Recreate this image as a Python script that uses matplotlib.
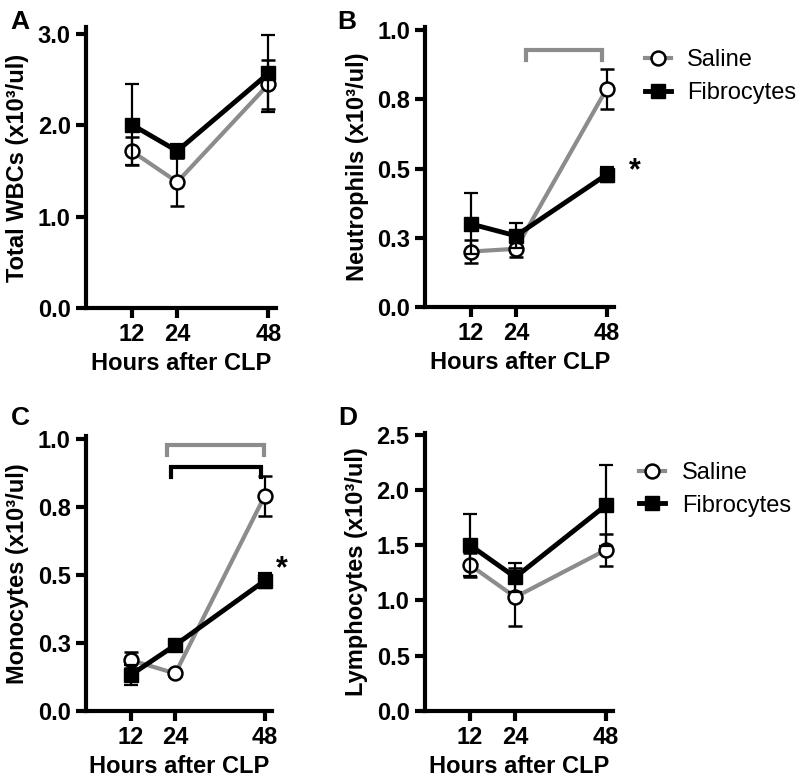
import matplotlib
matplotlib.use("Agg")
import matplotlib.pyplot as plt
import numpy as np

plt.rcParams['font.family'] = ['Liberation Sans', 'DejaVu Sans']

hours = [12, 24, 48]
x_ticks = [12, 24, 48]

# Panel A: Total WBCs
wbc_saline = [1.72, 1.38, 2.45]
wbc_saline_sem = [0.15, 0.26, 0.27]
wbc_fibro = [2.01, 1.72, 2.57]
wbc_fibro_sem = [0.44, 0.08, 0.42]

# Panel B: Neutrophils
neu_saline = [0.20, 0.21, 0.787]
neu_saline_sem = [0.04, 0.03, 0.072]
neu_fibro = [0.30, 0.257, 0.478]
neu_fibro_sem = [0.11, 0.045, 0.028]

# Panel C: Monocytes
mono_saline = [0.186, 0.137, 0.788]
mono_saline_sem = [0.03, 0.01, 0.074]
mono_fibro = [0.131, 0.241, 0.477]
mono_fibro_sem = [0.037, 0.015, 0.028]

# Panel D: Lymphocytes
lym_saline = [1.32, 1.03, 1.457]
lym_saline_sem = [0.11, 0.26, 0.145]
lym_fibro = [1.50, 1.21, 1.86]
lym_fibro_sem = [0.28, 0.13, 0.37]

series_names = ['Saline', 'Fibrocytes']

GRAY = '#8c8c8c'
FS = 17

fig = plt.figure(figsize=(8, 7.81), dpi=100)

def make_ax(rect, ylim, yticks, yticklabels, ylabel):
    ax = fig.add_axes(rect)
    ax.set_xlim(0, 50)
    ax.set_ylim(*ylim)
    ax.set_xticks(x_ticks)
    ax.set_xticklabels([str(h) for h in x_ticks], fontsize=FS, fontweight='bold')
    ax.set_yticks(yticks)
    ax.set_yticklabels(yticklabels, fontsize=FS, fontweight='bold')
    for s in ['top', 'right']:
        ax.spines[s].set_visible(False)
    for s in ['left', 'bottom']:
        ax.spines[s].set_linewidth(3)
    ax.tick_params(axis='both', width=3, length=7, pad=4)
    ax.set_xlabel('Hours after CLP', fontsize=FS, fontweight='bold', labelpad=4)
    ax.set_ylabel(ylabel, fontsize=FS, fontweight='bold', labelpad=6)
    return ax

def draw(ax, s, s_sem, f, f_sem):
    ax.errorbar(hours, s, yerr=s_sem, color=GRAY, lw=3, ecolor='black',
                elinewidth=1.6, capsize=5, capthick=1.6,
                marker='o', ms=10, mfc='white', mec='black', mew=1.8,
                label=series_names[0], clip_on=False, zorder=3)
    ax.errorbar(hours, f, yerr=f_sem, color='black', lw=3.5, ecolor='black',
                elinewidth=1.6, capsize=5, capthick=1.6,
                marker='s', ms=9.5, mfc='black', mec='black',
                label=series_names[1], clip_on=False, zorder=4)

def legend(ax, x, y):
    h, l = ax.get_legend_handles_labels()
    h = [hh[0] for hh in h]
    fig.legend(h, l, loc='center left', bbox_to_anchor=(x, y),
               frameon=False, fontsize=FS, handlelength=1.1,
               handletextpad=0.7, labelspacing=0.45, borderpad=0,
               borderaxespad=0)

def bracket(ax, x0, x1, ytop, ybot, color):
    ax.plot([x0, x0, x1, x1], [ybot, ytop, ytop, ybot], color=color, lw=3,
            clip_on=False, solid_joinstyle='miter')

# A
axA = make_ax([0.1075, 0.6056, 0.2375, 0.360], (0, 3.08), [0, 1, 2, 3],
              ['0.0', '1.0', '2.0', '3.0'], 'Total WBCs (x10³/ul)')
draw(axA, wbc_saline, wbc_saline_sem, wbc_fibro, wbc_fibro_sem)

# B
axB = make_ax([0.5316, 0.607, 0.236, 0.358], (0, 1.01), [0, 0.25, 0.5, 0.75, 1.0],
              ['0.0', '0.3', '0.5', '0.8', '1.0'], 'Neutrophils (x10³/ul)')
draw(axB, neu_saline, neu_saline_sem, neu_fibro, neu_fibro_sem)
bracket(axB, 26.6, 46.7, 0.928, 0.892, GRAY)
axB.text(55.5, 0.49, '*', fontsize=22, fontweight='bold', ha='center', va='center',
         clip_on=False)
legend(axB, 0.806, 0.902)

# C
axC = make_ax([0.1075, 0.090, 0.2325, 0.352], (0, 1.01), [0, 0.25, 0.5, 0.75, 1.0],
              ['0.0', '0.3', '0.5', '0.8', '1.0'], 'Monocytes (x10³/ul)')
draw(axC, mono_saline, mono_saline_sem, mono_fibro, mono_fibro_sem)
bracket(axC, 21.7, 47.9, 0.976, 0.939, GRAY)
bracket(axC, 22.8, 47.0, 0.894, 0.857, 'black')
axC.text(52.6, 0.52, '*', fontsize=22, fontweight='bold', ha='center', va='center',
         clip_on=False)

# D
axD = make_ax([0.531, 0.090, 0.2356, 0.356], (0, 2.52), [0, 0.5, 1.0, 1.5, 2.0, 2.5],
              ['0.0', '0.5', '1.0', '1.5', '2.0', '2.5'], 'Lymphocytes (x10³/ul)')
draw(axD, lym_saline, lym_saline_sem, lym_fibro, lym_fibro_sem)
legend(axD, 0.799, 0.3736)

# Panel letters
for lbl, (px, py) in zip('ABCD', [(20, 22), (347, 22), (20, 418), (348, 418)]):
    fig.text(px / 800, 1 - py / 781, lbl, fontsize=19, fontweight='bold',
             ha='center', va='center')

fig.savefig('out.png', dpi=100)
